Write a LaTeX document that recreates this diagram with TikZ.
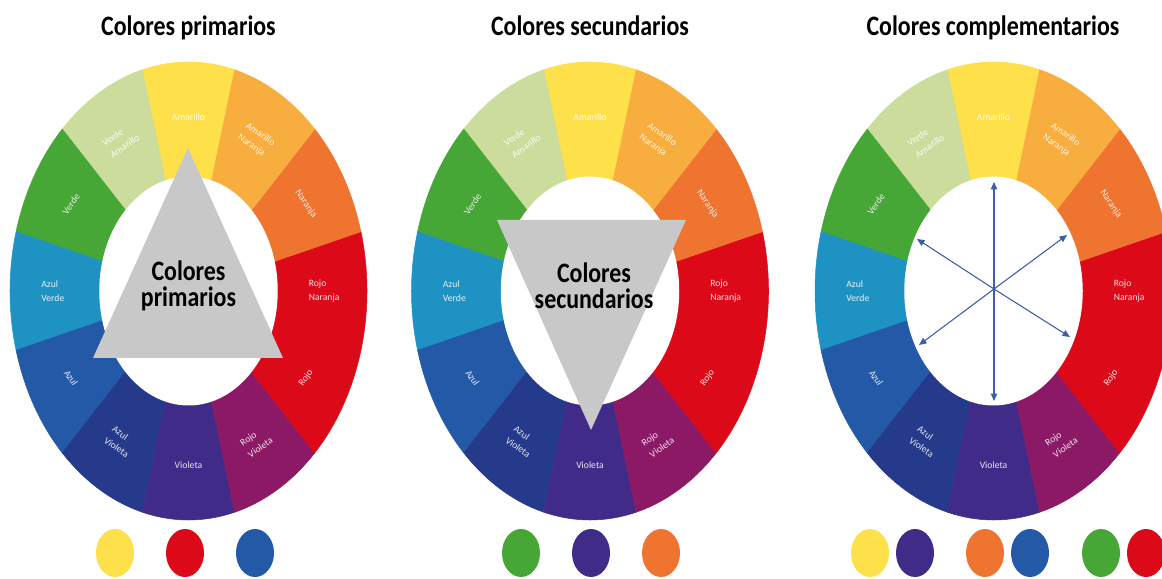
\documentclass[tikz,border=0pt]{standalone}
\usepackage{fontspec}
\setmainfont{Carlito}
\newfontfamily\condfont{Carlito}[FakeStretch=0.85]
\usetikzlibrary{arrows.meta, positioning, calc, shapes.geometric}
\definecolor{amarillo}{HTML}{FDE04A}
\definecolor{verdeam}{HTML}{CCDC9D}
\definecolor{verde}{HTML}{46A636}
\definecolor{azulverde}{HTML}{1F92C4}
\definecolor{azul}{HTML}{2459A8}
\definecolor{azulvio}{HTML}{263A8C}
\definecolor{violeta}{HTML}{412B88}
\definecolor{rojovio}{HTML}{8C1966}
\definecolor{rojo}{HTML}{DC0A18}
\definecolor{naranja}{HTML}{EE7430}
\definecolor{amanar}{HTML}{F8AE3E}
\definecolor{gristri}{HTML}{C8C8C8}
\definecolor{flecha}{HTML}{3E5EA6}
\tikzset{
  seglabel/.style={text=white, text opacity=0.88, font=\fontsize{5.5}{8}\selectfont, align=left, inner sep=0pt},
  heading/.style={font=\condfont\bfseries\fontsize{16}{16}\selectfont, anchor=base},
  bigtext/.style={font=\condfont\bfseries\fontsize{16}{14.7}\selectfont, align=center, inner sep=0pt},
  dot/.style={ellipse, fill=#1, minimum width=0.76cm, minimum height=0.96cm, inner sep=0pt},
  arr/.style={-{Triangle[length=1.5mm, width=1.3mm]}, draw=flecha, fill=flecha, line width=0.6pt},
}

\begin{document}
\begin{tikzpicture}[x=0.02cm, y=0.02cm]
  \useasboundingbox (0,0) rectangle (1162,578);
  \clip (0,0) rectangle (1162,578);
  % the three wheels
  \foreach \cx [count=\w] in {188.5, 590, 993.5} {
    \coordinate (w\w) at (\cx,287);
    \begin{scope}[shift={(\cx,287)}, xscale=178.5, yscale=229]
      \foreach \ang/\col/\txt/\rot [count=\i] in {
          90/amarillo/{Amarillo}/0, 120/verdeam/{Verde\\Amarillo}/35,
          150/verde/{Verde}/55, 180/azulverde/{Azul\\Verde}/0,
          210/azul/{Azul}/-55, 240/azulvio/{Azul\\Violeta}/-35,
          270/violeta/{Violeta}/0, 300/rojovio/{Rojo\\Violeta}/35,
          330/rojo/{Rojo}/55, 0/rojo/{Rojo\\Naranja}/0,
          30/naranja/{Naranja}/-55, 60/amanar/{Amarillo\\Naranja}/-35} {
        \fill[\col, draw=\col, line width=0.3pt] (0,0) -- ({\ang-15}:1)
          arc[start angle={\ang-15}, end angle={\ang+15}, radius=1] -- cycle;
        \node[seglabel, rotate=\rot] (lbl\w-\i) at (\ang:0.76) {\txt};
      }
      \fill[white] (0,0) circle[radius=0.5];
    \end{scope}
  }

  % titles
  \node[heading] (t1) at (188.5,542) {Colores primarios};
  \node[heading] (t2) at (590,542) {Colores secundarios};
  \node[heading] (t3) at (993,542) {Colores complementarios};

  % primarios
  \fill[gristri] (188,430) -- (93,220) -- (283,220) -- cycle;
  \node[bigtext] (c1) at (188.5,292) {Colores\\primarios};
  \node[dot=amarillo] (p1) at (115,25) {};
  \node[dot=rojo] (p2) at (185,25) {};
  \node[dot=azul] (p3) at (255,25) {};

  % secundarios
  \fill[gristri] (497,358) -- (686,358) -- (591,148) -- cycle;
  \node[bigtext] (c2) at (594,292) {Colores\\secundarios};
  \node[dot=verde] (s1) at (521,25) {};
  \node[dot=violeta] (s2) at (591,25) {};
  \node[dot=naranja] (s3) at (661,25) {};

  % complementarios
  \coordinate (m) at (994,289);
  \coordinate (up) at (994,396);
  \coordinate (dn) at (994,177);
  \coordinate (ul) at (917,339);
  \coordinate (ur) at (1067,343);
  \coordinate (ll) at (919,233);
  \coordinate (lr) at (1070,241);
  \foreach \tip in {up, dn, ul, ur, ll, lr}
    \draw[arr] (m) -- (\tip);
  \node[dot=amarillo] (k1) at (870,25) {};
  \node[dot=violeta] (k2) at (915,25) {};
  \node[dot=naranja] (k3) at (985,25) {};
  \node[dot=azul] (k4) at (1030,25) {};
  \node[dot=verde] (k5) at (1101,25) {};
  \node[dot=rojo] (k6) at (1146,25) {};
\end{tikzpicture}
\end{document}
